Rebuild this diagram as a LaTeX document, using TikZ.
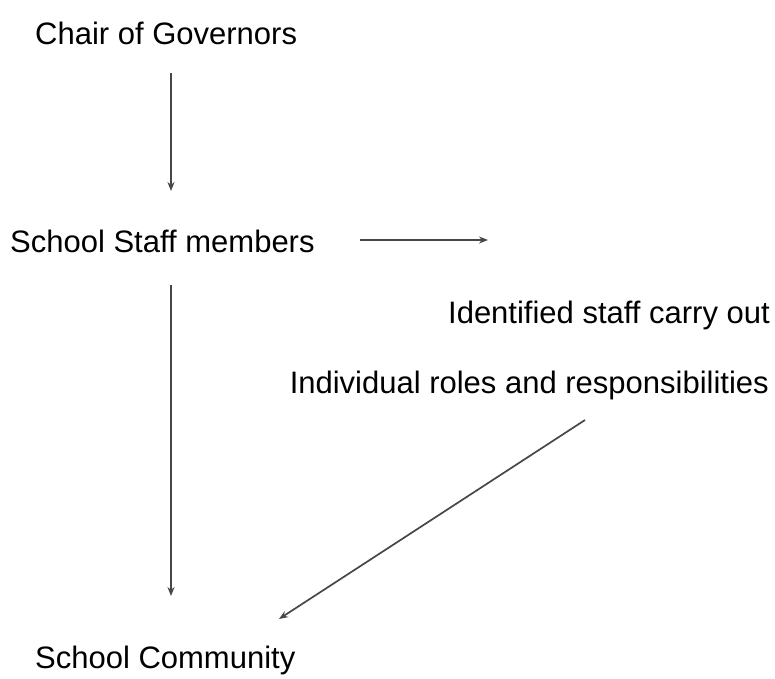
\documentclass[tikz,border=0pt]{standalone}
\usepackage{fontspec}
\setmainfont{Liberation Sans}
\usetikzlibrary{arrows.meta}
\begin{document}
\begin{tikzpicture}[x=1pt,y=-1pt,
  lbl/.style={inner sep=0pt,font=\fontsize{31}{36}\selectfont},
  conn/.style={draw=black!72,line width=1.7pt,-{Stealth[length=9pt,width=7pt]}}]
\useasboundingbox (0,0) rectangle (775,678);
\node[lbl,anchor=base west] (chair) at (35,44) {Chair of Governors};
\node[lbl,anchor=base west] (staff) at (10,252) {School Staff members};
\node[lbl,anchor=base east] (ident) at (770,323) {Identified staff carry out};
\node[lbl,anchor=base east] (roles) at (769,393) {Individual roles and responsibilities};
\node[lbl,anchor=base west] (comm) at (35,668) {School Community};
\coordinate (a1s) at (171,73);
\coordinate (a1e) at (171,191);
\coordinate (hs) at (360,240);
\coordinate (he) at (488,240);
\coordinate (a2s) at (171,285);
\coordinate (a2e) at (171,596);
\coordinate (ds) at (585,420);
\coordinate (de) at (279,619);
\draw[conn] (a1s) -- (a1e);
\draw[conn] (hs) -- (he);
\draw[conn] (a2s) -- (a2e);
\draw[conn] (ds) -- (de);
\end{tikzpicture}
\end{document}
